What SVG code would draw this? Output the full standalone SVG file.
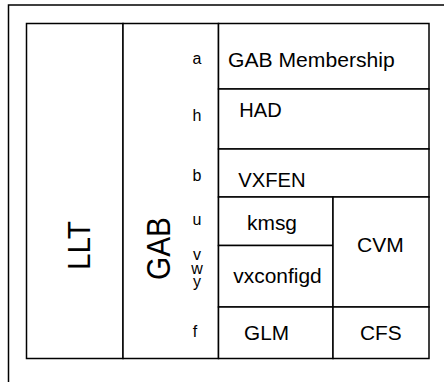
<svg xmlns="http://www.w3.org/2000/svg" width="444" height="382" viewBox="0 0 444 382">
<style>
.c{fill:#fff;stroke:#000;stroke-width:1.5}
.t{font-family:"Liberation Sans",Arial,sans-serif;font-size:20px;fill:#000}
.s{font-family:"Liberation Sans",Arial,sans-serif;font-size:16px;fill:#000;text-anchor:middle}
.v{font-family:"Liberation Sans",Arial,sans-serif;fill:#000;text-anchor:middle}
</style>
<rect width="444" height="382" fill="#fff"/>
<rect id="frame" x="8.5" y="5" width="460" height="400" fill="none" stroke="#000" stroke-width="1.5"/>
<g id="LLT">
<rect class="c" x="26.5" y="23.5" width="96.5" height="335"/>
<text class="v" font-size="32" textLength="49" lengthAdjust="spacingAndGlyphs" transform="translate(90,245.5) rotate(-90)">LLT</text>
</g>
<g id="GAB">
<rect class="c" x="123" y="23.5" width="95.5" height="335"/>
<text class="v" font-size="34" textLength="63" lengthAdjust="spacingAndGlyphs" transform="translate(170,248.5) rotate(-90)">GAB</text>
<text class="s" x="197" y="64">a</text>
<text class="s" x="197" y="121">h</text>
<text class="s" x="197" y="181">b</text>
<text class="s" x="197" y="225">u</text>
<text class="s" font-size="15"><tspan x="197" y="260">v</tspan><tspan x="197" y="274">w</tspan><tspan x="197" y="287">y</tspan></text>
<text class="s" x="195" y="336.5">f</text>
</g>
<g id="GAB_Membership">
<rect class="c" x="218.5" y="23.5" width="210.5" height="65.5"/>
<text class="t" x="228" y="67.3" textLength="166.7" lengthAdjust="spacingAndGlyphs">GAB Membership</text>
</g>
<g id="HAD">
<rect class="c" x="218.5" y="89" width="210.5" height="60"/>
<text class="t" x="239.3" y="117.3" textLength="42.4" lengthAdjust="spacingAndGlyphs">HAD</text>
</g>
<g id="VXFEN">
<rect class="c" x="218.5" y="149" width="210.5" height="48"/>
<text class="t" x="238.3" y="187.3" textLength="67.4" lengthAdjust="spacingAndGlyphs">VXFEN</text>
</g>
<g id="kmsg">
<rect class="c" x="218.5" y="197" width="114.5" height="48.5"/>
<text class="t" x="247" y="230" textLength="50" lengthAdjust="spacingAndGlyphs">kmsg</text>
</g>
<g id="vxconfigd">
<rect class="c" x="218.5" y="245.5" width="114.5" height="61.5"/>
<text class="t" x="233.3" y="283.3" textLength="88.4" lengthAdjust="spacingAndGlyphs">vxconfigd</text>
</g>
<g id="CVM">
<rect class="c" x="333" y="197" width="96" height="110"/>
<text class="t" x="357" y="251.7" textLength="46.7" lengthAdjust="spacingAndGlyphs">CVM</text>
</g>
<g id="GLM">
<rect class="c" x="218.5" y="307" width="114.5" height="51.5"/>
<text class="t" x="244" y="340" textLength="45" lengthAdjust="spacingAndGlyphs">GLM</text>
</g>
<g id="CFS">
<rect class="c" x="333" y="307" width="96" height="51.5"/>
<text class="t" x="360" y="340" textLength="41.7" lengthAdjust="spacingAndGlyphs">CFS</text>
</g>
<g id="connectors"/>
</svg>
